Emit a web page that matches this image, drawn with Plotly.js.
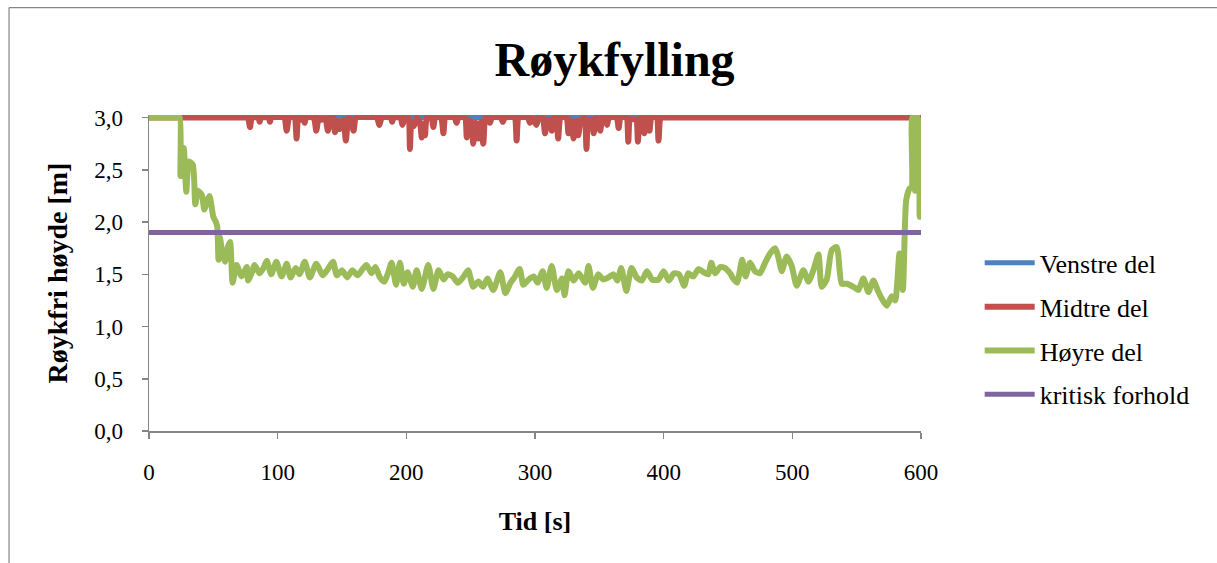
<!DOCTYPE html>
<html>
<head>
<meta charset="utf-8">
<script src="https://cdn.plot.ly/plotly-3.0.1.min.js"></script>
<style>
  html, body { margin: 0; padding: 0; background: #ffffff; }
  #chart { width: 1217px; height: 563px; }
</style>
</head>
<body>
<div id="chart"></div>
<script>
// ---- Data ----
const seriesNames = ["Venstre del", "Midtre del", "Høyre del", "kritisk forhold"];

// Venstre del: constant at full height
const leftTime = [0, 600];
const leftHeight = [3.0, 3.0];

// Midtre del: full height with short dips between ~78 s and ~400 s
const midTime = [
  0, 75.5, 77, 78.5, 80, 85, 86, 87, 93, 94, 95,
  105, 107, 109, 113, 114.7, 116, 118, 120, 121, 122,
  128, 130, 132, 134, 137, 139, 141, 143, 144.5, 146,
  148, 151, 153, 155, 157, 159, 161, 177, 179, 181,
  188, 189, 190, 195.5, 197, 199, 201.5, 202.8, 204, 206,
  208, 210.5, 212, 213.3, 214.5, 216, 219.5, 221, 222.5, 227,
  228.8, 230.5, 237.5, 239, 240.5, 245.5, 247, 249, 250.5, 252,
  254, 256, 258, 259.8, 261.5, 263.5, 265, 266.5, 273.5, 275,
  276.5, 284, 285.7, 287.5, 294.5, 296, 298, 301, 303, 306,
  307.8, 309.5, 311.5, 313, 314.5, 316.5, 318, 320, 324.5, 326,
  328, 330, 332, 333.6, 335.5, 338.5, 340, 341.5, 344, 345.6,
  347.5, 349.5, 350.7, 352.5, 354.5, 356, 357.5, 363.5, 365, 366.5,
  371, 372.5, 374, 378.5, 380, 381.5, 383.5, 385, 387, 389,
  390.5, 394.5, 396, 397.5, 399, 600];
const midHeight = [
  3.0, 3.0, 3.0, 2.91, 3.0, 3.0, 2.96, 3.0, 3.0, 2.96, 3.0,
  3.0, 2.875, 3.0, 3.0, 2.80, 3.0, 2.98, 3.0, 2.95, 3.0,
  3.0, 2.875, 3.0, 2.98, 3.0, 2.875, 3.0, 3.0, 2.86, 2.97,
  2.89, 2.98, 2.78, 3.0, 2.97, 2.875, 3.0, 3.0, 2.93, 3.0,
  3.0, 2.96, 3.0, 3.0, 2.93, 3.0, 3.0, 2.70, 2.95, 2.92,
  3.0, 2.96, 2.81, 2.94, 2.83, 3.0, 3.0, 2.91, 3.0, 3.0,
  2.85, 3.0, 3.0, 2.95, 3.0, 3.0, 2.81, 2.97, 2.96, 2.75,
  2.95, 2.80, 2.96, 2.75, 3.0, 3.0, 2.95, 3.0, 3.0, 2.96,
  3.0, 3.0, 2.78, 3.0, 3.0, 2.95, 3.0, 2.93, 3.0, 3.0,
  2.85, 2.98, 2.97, 2.875, 3.0, 3.0, 2.80, 3.0, 3.0, 2.85,
  2.97, 2.80, 2.97, 2.83, 2.97, 3.0, 2.70, 2.97, 2.98, 2.85,
  3.0, 2.98, 2.875, 3.0, 3.0, 2.93, 3.0, 3.0, 2.90, 3.0,
  3.0, 2.77, 2.98, 2.98, 2.77, 3.0, 3.0, 2.85, 3.0, 2.875,
  3.0, 3.0, 2.78, 3.0, 3.0, 3.0];

// Høyre del: smoke-free height in the right section
const rightTime = [
  0, 22.5, 24, 24.5, 27, 29, 31, 34, 36, 38, 41,
  43, 45, 47, 50, 52, 53, 54, 55, 57, 59,
  61, 63, 65, 68, 72, 76, 77, 80, 82, 86,
  89, 91.5, 95, 99, 103, 107, 110, 114, 117, 121,
  125, 130, 135, 139, 143, 146, 150, 154, 158, 162,
  166, 169, 173, 176, 179.5, 183, 186, 188.6, 192, 195,
  198, 201, 205, 208, 212, 217, 221, 225, 229, 232,
  236, 240, 244, 248, 252, 256, 259.6, 263, 267.6, 273,
  277, 281, 284, 288, 291, 295, 299, 302, 306, 309,
  313, 317, 321, 323, 326, 330, 334, 339, 341.6, 345,
  349, 353, 357, 361, 364, 367, 371, 375, 379, 383,
  387, 391, 396, 400, 404, 408, 412, 416, 419, 423,
  427, 431, 434.7, 437, 440, 443.9, 447.7, 451.6, 454, 457,
  461, 463.6, 467.1, 471, 474.9, 478.8, 482.7, 486.6, 489, 491.8,
  495.6, 499.5, 503.4, 508.6, 512.5, 516.4, 520.3, 522.8, 526.7, 530.6,
  534.5, 538.4, 542.3, 547.4, 551.3, 555.2, 559.1, 563, 566.9, 570.8,
  573.4, 577.3, 579.9, 583.3, 585.9, 588.5, 591.1, 592.7, 593.2, 594.6,
  595.4, 596.2, 597.6, 599, 600];
const rightHeight = [
  3.0, 3.0, 3.0, 2.44, 2.71, 2.29, 2.58, 2.55, 2.17, 2.30, 2.26,
  2.12, 2.20, 2.25, 2.05, 2.00, 1.96, 1.64, 1.86, 1.70, 1.62,
  1.75, 1.81, 1.42, 1.59, 1.48, 1.57, 1.44, 1.52, 1.59, 1.51,
  1.56, 1.63, 1.50, 1.62, 1.48, 1.60, 1.47, 1.56, 1.50, 1.62,
  1.47, 1.60, 1.49, 1.55, 1.62, 1.49, 1.54, 1.47, 1.54, 1.49,
  1.55, 1.59, 1.51, 1.57, 1.47, 1.43, 1.52, 1.61, 1.40, 1.61,
  1.41, 1.52, 1.38, 1.54, 1.36, 1.59, 1.36, 1.54, 1.45, 1.50,
  1.48, 1.42, 1.47, 1.54, 1.38, 1.43, 1.38, 1.46, 1.35, 1.52,
  1.32, 1.42, 1.47, 1.55, 1.40, 1.45, 1.48, 1.42, 1.53, 1.37,
  1.58, 1.35, 1.46, 1.30, 1.53, 1.44, 1.51, 1.42, 1.58, 1.37,
  1.50, 1.45, 1.47, 1.50, 1.44, 1.56, 1.34, 1.56, 1.47, 1.44,
  1.53, 1.45, 1.45, 1.53, 1.44, 1.51, 1.50, 1.39, 1.51, 1.48,
  1.55, 1.52, 1.50, 1.61, 1.51, 1.57, 1.56, 1.51, 1.46, 1.42,
  1.64, 1.48, 1.61, 1.53, 1.51, 1.61, 1.70, 1.75, 1.67, 1.53,
  1.67, 1.58, 1.39, 1.54, 1.43, 1.54, 1.69, 1.38, 1.45, 1.73,
  1.76, 1.41, 1.41, 1.38, 1.35, 1.46, 1.33, 1.44, 1.33, 1.24,
  1.20, 1.29, 1.25, 1.70, 1.35, 2.21, 2.32, 2.33, 3.0, 3.0,
  2.30, 3.0, 3.0, 2.05, 2.17];

// kritisk forhold: critical smoke-free height
const critTime = [0, 600];
const critHeight = [1.9, 1.9];

// Axis tick values
const xTicks = [0, 100, 200, 300, 400, 500, 600];
const yTicks = [0, 0.5, 1.0, 1.5, 2.0, 2.5, 3.0];

const colors = ["#4F81BD", "#C0504D", "#9BBB59", "#8064A2"];
const serif = "Liberation Serif, Times New Roman, serif";

const xs = [leftTime, midTime, rightTime, critTime];
const ys = [leftHeight, midHeight, rightHeight, critHeight];
const widths = [5, 6, 6, 5];
const shapes = ["linear", "spline", "spline", "linear"];

const traces = seriesNames.map((name, i) => ({
  type: "scatter",
  mode: "lines",
  name: name,
  legendgroup: "g" + i,
  x: xs[i],
  y: ys[i],
  line: { color: colors[i], width: widths[i], shape: shapes[i], smoothing: 0.6 },
  hoverinfo: "x+y+name"
}));

// y range extended a hair above 3,0 so the top lines are not half-clipped
const yTop = 3.025;
const plotH = 313 * yTop / 3.0;

const layout = {
  width: 1217,
  height: 563,
  paper_bgcolor: "#ffffff",
  plot_bgcolor: "#ffffff",
  separators: ", ",
  margin: { l: 149, r: 296, t: 563 - 132 - plotH, b: 132, pad: 0 },
  font: { family: serif, color: "#000000", size: 23 },
  title: {
    text: "<b>Røykfylling</b>",
    font: { family: serif, size: 48, color: "#000000" },
    xref: "container", x: 0.505, xanchor: "center",
    yref: "container", y: 0.895, yanchor: "middle"
  },
  xaxis: {
    range: [0, 600],
    tickvals: xTicks,
    tickmode: "array",
    showgrid: false,
    zeroline: false,
    showline: true,
    linecolor: "#868686",
    linewidth: 1.5,
    ticks: "outside",
    ticklen: 6,
    tickwidth: 1.5,
    tickcolor: "#868686",
    ticklabelstandoff: 14,
    tickfont: { family: serif, size: 23, color: "#000000" },
    title: { text: "<b>Tid [s]</b>", font: { family: serif, size: 26, color: "#000000" }, standoff: 27 }
  },
  yaxis: {
    range: [0, yTop],
    tickvals: yTicks,
    tickmode: "array",
    tickformat: ".1f",
    showgrid: false,
    zeroline: false,
    showline: true,
    linecolor: "#868686",
    linewidth: 1.5,
    ticks: "outside",
    ticklen: 6,
    tickwidth: 1.5,
    tickcolor: "#868686",
    ticklabelstandoff: 14,
    tickfont: { family: serif, size: 23, color: "#000000" },
    title: { text: "<b>Røykfri høyde [m]</b>", font: { family: serif, size: 28, color: "#000000" }, standoff: 18 }
  },
  showlegend: true,
  legend: {
    x: 1.076, xanchor: "left",
    y: 0.323, yanchor: "middle",
    font: { family: serif, size: 26, color: "#000000" },
    tracegroupgap: 7,
    itemwidth: 50,
    bgcolor: "rgba(0,0,0,0)"
  },
  shapes: [
    { type: "line", xref: "paper", yref: "paper", x0: -0.1813, x1: 1.45, y0: 1.34, y1: 1.34,
      line: { color: "#868686", width: 1.2 } },
    { type: "line", xref: "paper", yref: "paper", x0: -0.1813, x1: -0.1813, y0: 1.34, y1: -0.45,
      line: { color: "#868686", width: 1.2 } }
  ]
};

Plotly.newPlot("chart", traces, layout, { displayModeBar: false, staticPlot: true });
</script>
</body>
</html>
